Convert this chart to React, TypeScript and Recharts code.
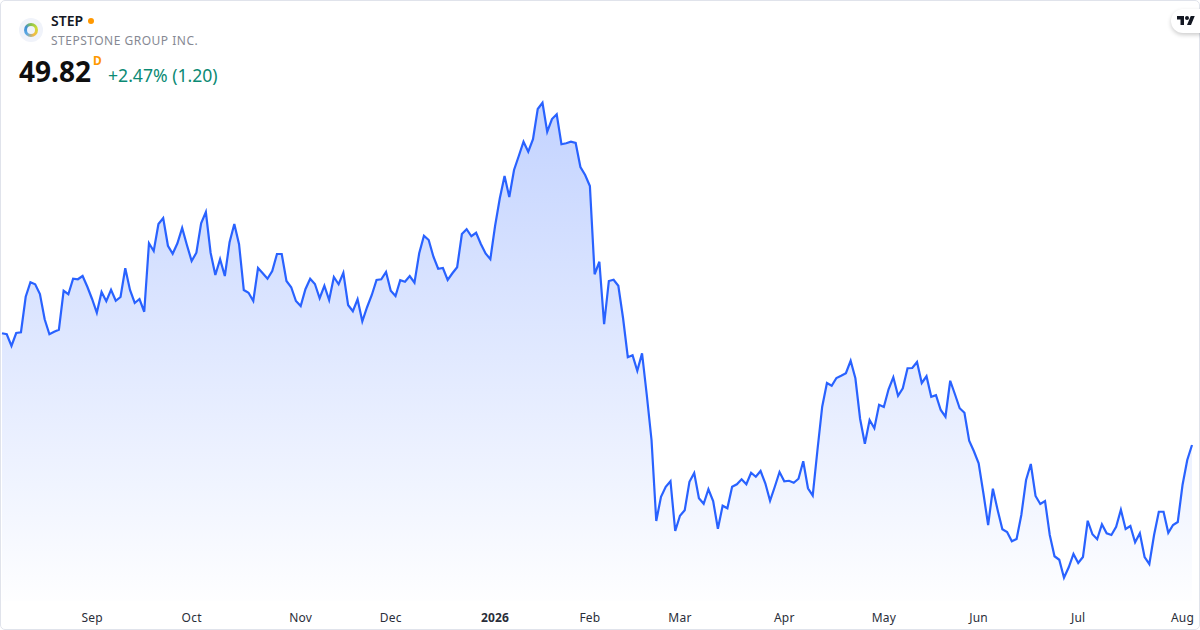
import React from "react";
import { AreaChart, Area, XAxis, YAxis } from "recharts";

const closes: number[] = [
  58.76, 58.68, 57.74, 58.78, 58.84, 61.68, 62.84, 62.68, 61.9, 59.88, 58.68, 58.88, 59.04, 62.16, 61.88, 63.12, 63.08, 63.34, 62.48, 61.5,
  60.4, 62.06, 61.32, 62.24, 61.36, 61.66, 63.96, 62.22, 61.18, 61.5, 60.48, 65.96, 65.34, 67.5, 67.98, 65.76, 65.12, 65.96, 67.18, 65.82,
  64.54, 65.2, 67.56, 68.46, 65.2, 63.42, 64.68, 63.34, 66.04, 67.5, 65.88, 62.22, 62.0, 61.34, 63.98, 63.56, 63.12, 63.74, 65.1, 65.1,
  62.94, 62.44, 61.34, 60.94, 62.28, 63.12, 62.7, 61.56, 62.56, 61.42, 63.26, 62.68, 63.6, 61.02, 60.52, 61.48, 59.72, 60.84, 61.82, 63.02,
  63.08, 63.66, 62.16, 61.74, 63.0, 62.88, 63.34, 62.8, 65.16, 66.56, 66.22, 64.88, 63.92, 63.98, 63.02, 63.56, 64.04, 66.7, 67.08, 66.52,
  66.8, 65.9, 65.14, 64.68, 67.34, 69.56, 71.34, 69.66, 71.82, 72.94, 74.08, 73.28, 74.28, 76.7, 77.2, 74.88, 75.9, 76.28, 73.88, 73.96,
  74.08, 73.98, 72.06, 71.42, 70.54, 63.48, 64.48, 59.48, 62.94, 63.04, 62.56, 59.96, 56.84, 57.0, 55.76, 57.16, 53.82, 50.22, 43.74, 45.68,
  46.48, 46.92, 42.94, 44.16, 44.6, 46.88, 47.58, 45.56, 45.12, 46.28, 45.34, 43.12, 44.96, 44.76, 46.48, 46.68, 47.08, 46.68, 47.6, 47.28,
  47.74, 46.76, 45.36, 46.48, 47.66, 46.92, 46.96, 46.8, 47.12, 48.52, 46.36, 45.78, 49.42, 52.88, 54.78, 54.56, 55.18, 55.36, 55.56, 56.56,
  55.16, 51.9, 49.92, 51.82, 51.16, 53.04, 52.86, 54.28, 55.24, 53.76, 54.36, 55.96, 55.98, 56.46, 54.78, 55.32, 53.68, 53.8, 52.62, 52.08,
  54.96, 53.88, 52.76, 52.4, 50.16, 49.32, 48.36, 45.96, 43.42, 46.32, 44.62, 43.08, 42.86, 42.12, 42.3, 44.22, 47.02, 48.3, 45.74, 45.1,
  45.34, 42.62, 40.92, 40.64, 39.2, 40.04, 41.1, 40.38, 40.86, 43.76, 42.68, 42.28, 43.48, 42.76, 42.62, 43.28, 44.64, 43.1, 43.34, 42.04,
  42.76, 40.86, 40.3, 42.62, 44.48, 44.48, 42.8, 43.42, 43.66, 46.62, 48.62, 49.82,
];
const tickIndexes: number[] = [19, 40, 63, 82, 104, 124, 143, 165, 186, 206, 227, 249];
const tickLabels: string[] = ["Sep", "Oct", "Nov", "Dec", "2026", "Feb", "Mar", "Apr", "May", "Jun", "Jul", "Aug"];
const yearLabels: string[] = ["2026"];
const priceDomain: number[] = [37.34, 85.42];

const ticker = "STEP";
const companyName = "STEPSTONE GROUP INC.";
const lastPrice = "49.82";
const interval = "D";
const changeText = "+2.47% (1.20)";

const chartData = closes.map((close, index) => ({ index, close }));
const FONT = "'Noto Sans', 'Open Sans', sans-serif";

function MonthTick(props: any) {
  const { x, y, payload } = props;
  const label = tickLabels[tickIndexes.indexOf(payload.value)];
  const isYear = yearLabels.includes(label);
  return (
    <text
      x={x}
      y={y}
      textAnchor="middle"
      dominantBaseline="central"
      fontFamily={FONT}
      fontSize={12}
      fontWeight={isYear ? 700 : 400}
      letterSpacing={0.2}
      fill="#2a2e39"
    >
      {label}
    </text>
  );
}

const abs = (s: React.CSSProperties): React.CSSProperties => ({ position: "absolute", whiteSpace: "nowrap", fontFamily: FONT, ...s });

export default function App() {
  return (
    <div style={{ position: "fixed", left: 0, top: 0, width: 1200, height: 630, background: "#fff", overflow: "hidden" }}>
      <AreaChart
        width={1200}
        height={630}
        data={chartData}
        margin={{ top: 0, right: 8, bottom: 0, left: 2 }}
      >
        <defs>
          <linearGradient id="stepFill" x1="0" y1="0" x2="0" y2="1">
            <stop offset="0%" stopColor="#2962FF" stopOpacity={0.28} />
            <stop offset="100%" stopColor="#2962FF" stopOpacity={0.006} />
          </linearGradient>
        </defs>
        <XAxis
          dataKey="index"
          type="number"
          domain={[0, closes.length - 1]}
          ticks={tickIndexes}
          interval={0}
          height={29}
          axisLine={false}
          tickLine={false}
          tickMargin={10}
          tick={<MonthTick />}
        />
        <YAxis hide type="number" domain={priceDomain} allowDataOverflow />
        <Area
          type="linear"
          dataKey="close"
          stroke="#2962FF"
          strokeWidth={2.2}
          fill="url(#stepFill)"
          fillOpacity={1}
          dot={false}
          activeDot={false}
          isAnimationActive={false}
        />
      </AreaChart>

      <div style={{ position: "absolute", inset: 0, border: "1px solid #e0e3eb", borderRadius: 5, boxSizing: "border-box", pointerEvents: "none" }} />

      <div style={abs({ left: 19, top: 18, width: 24, height: 24, borderRadius: 12, background: "#f0f3fa" })} />
      <div
        style={abs({
          left: 24,
          top: 23,
          width: 14,
          height: 14,
          borderRadius: 7,
          background: "conic-gradient(#8bc34a 0deg, #cddc39 70deg, #f5b942 150deg, #5aa9e6 230deg, #3f8fd2 300deg, #8bc34a 360deg)",
        })}
      />
      <div style={abs({ left: 27, top: 26, width: 8, height: 8, borderRadius: 4, background: "#f0f3fa" })} />

      <div style={abs({ left: 51, top: 12, fontSize: 14, lineHeight: "18px", fontWeight: 600, color: "#131722" })}>{ticker}</div>
      <div style={abs({ left: 88, top: 18, width: 6, height: 6, borderRadius: 3, background: "#ff9800" })} />
      <div style={abs({ left: 51, top: 32, fontSize: 12, lineHeight: "17px", letterSpacing: 0.5, color: "#868993" })}>{companyName}</div>
      <div style={abs({ left: 19, top: 52, fontSize: 28, lineHeight: "38px", fontWeight: 700, color: "#0f0f0f" })}>{lastPrice}</div>
      <div style={abs({ left: 93, top: 54, fontSize: 12, lineHeight: "14px", fontWeight: 700, color: "#ff9800" })}>{interval}</div>
      <div style={abs({ left: 108, top: 63, fontSize: 17.6, lineHeight: "24px", color: "#0b8a74" })}>{changeText}</div>

      <div style={abs({ left: 1171, top: 9, width: 40, height: 24, borderRadius: 12, background: "#fff", boxShadow: "0 2px 4px rgba(0,0,0,0.2)" })} />
      <svg style={{ position: "absolute", left: 1177, top: 14 }} width={18} height={14} viewBox="0 0 36 28">
        <path d="M14 22H7V11H0V4h14v18zM28 22h-8l7.5-18h8L28 22z" fill="#131722" />
        <circle cx={20} cy={8} r={4} fill="#131722" />
      </svg>
    </div>
  );
}
